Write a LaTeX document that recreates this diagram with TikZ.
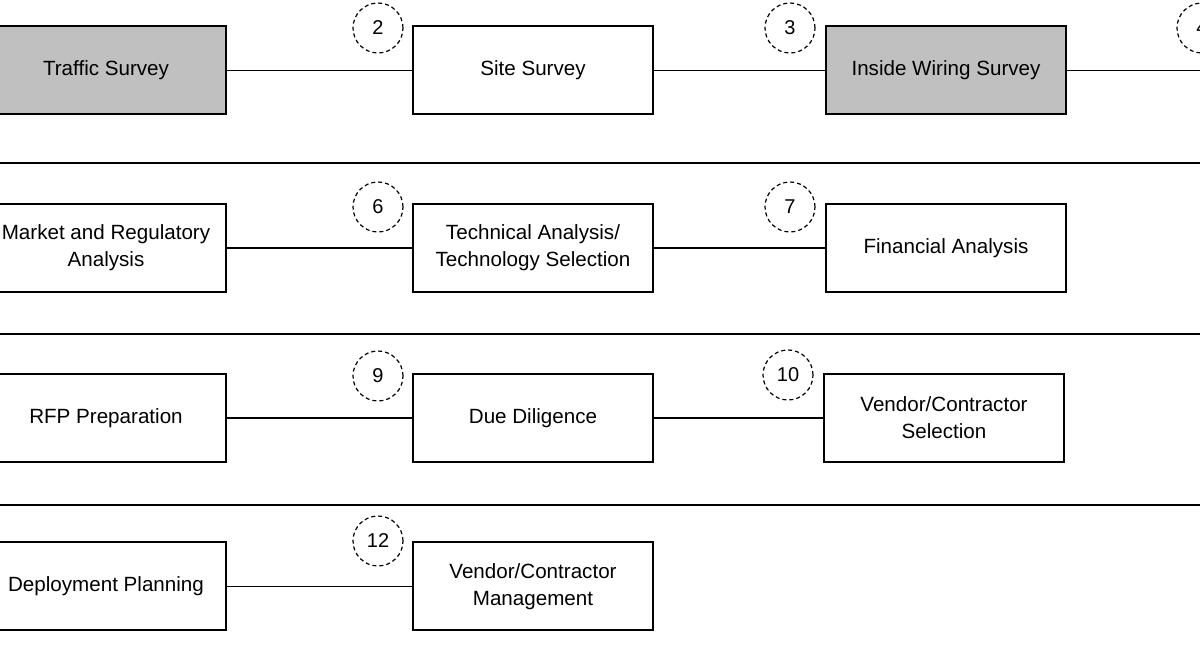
\documentclass[tikz,border=0pt]{standalone}
\usepackage{fontspec}
\setmainfont{Liberation Sans}
\usetikzlibrary{positioning}
\definecolor{donegray}{RGB}{192,192,192}

\begin{document}
\begin{tikzpicture}[x=0.5pt,y=-0.5pt,
    task/.style={draw=black,line width=1pt,minimum width=120pt,minimum height=44pt,
      align=center,inner sep=2pt,font=\fontsize{10.3}{13.5}\selectfont},
    donetask/.style={task,fill=donegray},
    stepnum/.style={circle,draw=black,dash pattern=on 2pt off 1.5pt,line width=0.6pt,
      minimum size=25pt,inner sep=0pt,font=\fontsize{10}{12}\selectfont},
    link/.style={line width=0.8pt}]
  \clip (0,0) rectangle (1200,667);
  % row 1: surveys
  \node[donetask] (traffic) at (106,70.5) {Traffic Survey};
  \node[task]     (site)    at (533,70.5) {Site Survey};
  \node[donetask] (wiring)  at (946,70.5) {Inside Wiring Survey};
  \coordinate (rowonext) at (1240,70.5);
  \draw[link] (traffic) -- (site);
  \draw[link] (site) -- (wiring);
  \draw[link] (wiring) -- (rowonext);
  \node[stepnum] (ntwo)   at (378,28)  {2};
  \node[stepnum] (nthree) at (790,28)  {3};
  \node[stepnum] (nfour)  at (1202,28) {4};
  % row 2: analysis
  \node[task] (market)  at (106,248) {Market and Regulatory\\Analysis};
  \node[task] (tech)    at (533,248) {Technical Analysis/\\Technology Selection};
  \node[task] (finance) at (946,248) {Financial Analysis};
  \draw[link] (market) -- (tech);
  \draw[link] (tech) -- (finance);
  \node[stepnum] (nsix)   at (378,207) {6};
  \node[stepnum] (nseven) at (790,207) {7};
  % row 3: procurement
  \node[task] (rfp)      at (106,418) {RFP Preparation};
  \node[task] (diligence) at (533,418) {Due Diligence};
  \node[task] (vselect)  at (944,418) {Vendor/Contractor\\Selection};
  \draw[link] (rfp) -- (diligence);
  \draw[link] (diligence) -- (vselect);
  \node[stepnum] (nnine) at (378,376) {9};
  \node[stepnum] (nten)  at (788,375) {10};
  % row 4: deployment
  \node[task] (deploy)  at (106,586.5) {Deployment Planning};
  \node[task] (vmanage) at (533,586.5) {Vendor/Contractor\\Management};
  \draw[link] (deploy) -- (vmanage);
  \node[stepnum] (ntwelve) at (378,541) {12};
  % separators between rows
  \foreach \y in {163,334,505}
    \draw[line width=1pt] (0,\y) -- (1200,\y);
\end{tikzpicture}
\end{document}
